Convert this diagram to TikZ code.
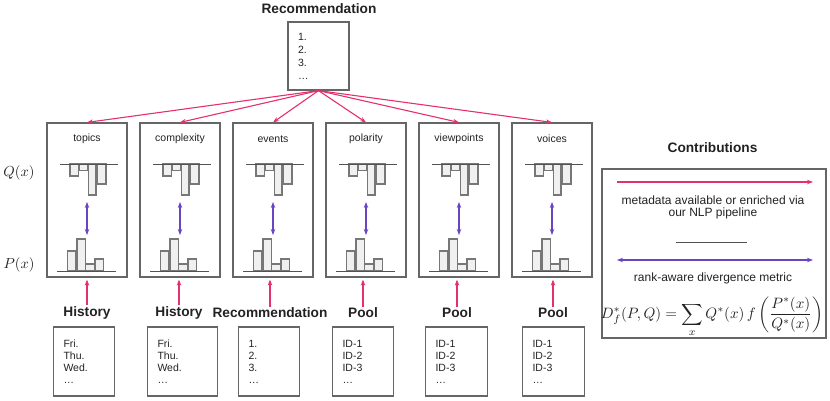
\documentclass[tikz,border=0pt]{standalone}
\usepackage{amsmath}
\usepackage[no-math]{fontspec}
\setmainfont{Liberation Sans}
\usetikzlibrary{arrows.meta}

\definecolor{metapink}{HTML}{E5306E}
\definecolor{rankpurple}{HTML}{6A45C0}
\definecolor{boxgray}{HTML}{666666}
\definecolor{bargray}{HTML}{777777}
\definecolor{inkgray}{HTML}{222222}

\newcommand{\daylist}{Fri.\\Thu.\\Wed.\\\ldots}
\newcommand{\ranklist}{1.\\2.\\3.\\\ldots}
\newcommand{\idlist}{ID-1\\ID-2\\ID-3\\\ldots}

\tikzset{
  panel/.style={draw=boxgray, line width=1.2pt, minimum width=80pt, minimum height=154pt, inner sep=0pt},
  listbox/.style={draw=boxgray, line width=1.2pt, minimum height=69pt, inner xsep=10pt, align=left, text width=#1, font=\fontsize{10.5}{12}\selectfont},
  srclabel/.style={font=\bfseries\fontsize{13.7}{15}\selectfont, inner sep=1pt},
  dimlabel/.style={font=\fontsize{10.5}{12}\selectfont},
  bar/.style={draw=bargray, fill=gray!12, line width=1.2pt},
  axis/.style={draw=boxgray!80!black, line width=1pt},
  meta/.style={draw=metapink, line width=1.1pt, -{Stealth[length=6pt,width=4.5pt]}},
  rank/.style={draw=rankpurple, line width=1.1pt, {Stealth[length=6pt,width=4.5pt]}-{Stealth[length=6pt,width=4.5pt]}},
}

\begin{document}
\begin{tikzpicture}[x=1pt, y=1pt, text=inkgray]
    \useasboundingbox (0,0) rectangle (830,-400);
    % recommendation list on top
    \node[srclabel] (rectitle) at (319,-9) {Recommendation};
    \node[listbox=41pt, minimum height=68pt, font=\fontsize{10.5}{13}\selectfont] (rec) at (318.5,-56) {\ranklist};
    % axis labels
    \node[scale=1.45] (qlab) at (19,-173) {$Q(x)$};
    \node[scale=1.45] (plab) at (19,-265) {$P(x)$};
    % one panel per dimension
    \foreach \i/\name in {1/topics, 2/complexity, 3/events, 4/polarity, 5/viewpoints, 6/voices} {
        \pgfmathsetmacro\cx{87+93*(\i-1)}
        \node[panel] (p\i) at (\cx,-200) {};
        \node[dimlabel] (d\i) at (\cx,-139) {\name};
        % Q(x)
        \draw[bar] (\cx-17,-164) rectangle (\cx-8.7,-176);
        \draw[bar] (\cx-8,-164) rectangle (\cx+0.7,-170.5);
        \draw[bar] (\cx+1.3,-164) rectangle (\cx+9,-195);
        \draw[bar] (\cx+10.3,-164) rectangle (\cx+19,-184);
        \draw[axis] (\cx-27,-164) -- (\cx+31,-164);
        % P(x)
        \draw[bar] (\cx-19.3,-271) rectangle (\cx-11,-251);
        \draw[bar] (\cx-10,-271) rectangle (\cx-1.7,-239);
        \draw[bar] (\cx-1.3,-271) rectangle (\cx+7.3,-264);
        \draw[bar] (\cx+8,-271) rectangle (\cx+16.3,-259);
        \draw[axis] (\cx-30,-271) -- (\cx+29,-271);
        \coordinate (qe\i) at (\cx,-202);
        \coordinate (pe\i) at (\cx,-235);
        \draw[rank] (qe\i) -- (pe\i);
        \draw[meta] (rec.south) -- (p\i.north);
    }
    % sources below the panels
    \foreach \i/\lx/\bx/\tw/\src/\items in {1/87/84/41pt/History/\daylist, 2/179/182.5/50pt/History/\daylist, 3/270/269/41pt/Recommendation/\ranklist, 4/363/363/41pt/Pool/\idlist, 5/457/456.5/42pt/Pool/\idlist, 6/553/553.5/42pt/Pool/\idlist} {
        \node[srclabel] (s\i) at (\lx,-313) {\src};
        \node[listbox=\tw] (b\i) at (\bx,-361.5) {\items};
        \draw[meta, shorten >=2pt] (s\i.north) -- (s\i.north |- p\i.south);
    }
    % contributions legend
    \node[srclabel] (contribtitle) at (712.5,-148) {Contributions};
    \node[draw=boxgray, line width=1.2pt, minimum width=224pt, minimum height=169pt] (legend) at (714,-253.5) {};
    \coordinate (m1) at (617,-182);
    \coordinate (m2) at (813,-182);
    \draw[meta] (m1) -- (m2);
    \node[font=\fontsize{12}{11.6}\selectfont, align=center] (metatxt) at (713,-207.5) {metadata available or enriched via\\our NLP pipeline};
    \coordinate (g1) at (676,-242);
    \coordinate (g2) at (747,-242);
    \draw[axis] (g1) -- (g2);
    \coordinate (r1) at (617,-260);
    \coordinate (r2) at (813,-260);
    \draw[rank] (r1) -- (r2);
    \node[font=\fontsize{12}{14}\selectfont, inner sep=0pt] (ranktxt) at (713,-278) {rank-aware divergence metric};
    \node[scale=1.5, inner sep=0pt] (formula) at (712,-317) {$\displaystyle D^*_f(P,Q)=\sum_x Q^*(x)\,f\left(\frac{P^*(x)}{Q^*(x)}\right)$};
\end{tikzpicture}
\end{document}
